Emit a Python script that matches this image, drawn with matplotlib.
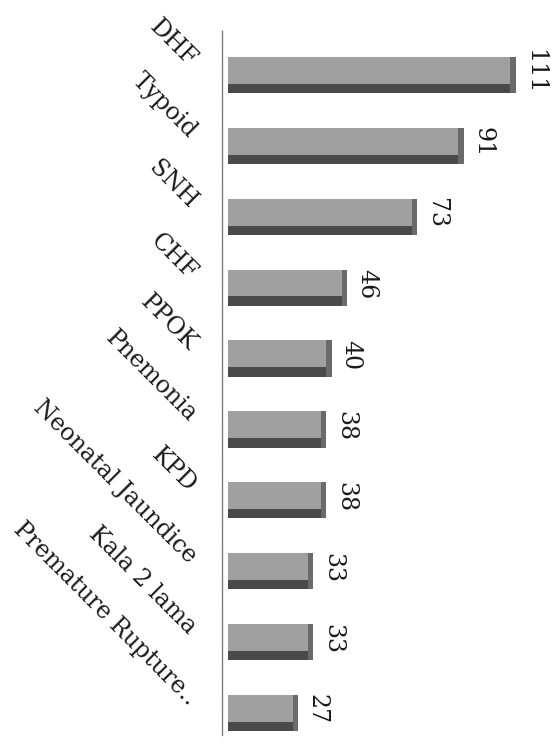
import matplotlib
matplotlib.use("Agg")
import matplotlib.pyplot as plt
import matplotlib.transforms as mtransforms

categories = ["DHF", "Typoid", "SNH", "CHF", "PPOK", "Pnemonia", "KPD",
              "Neonatal Jaundice", "Kala 2 lama", "Premature Rupture.."]
values = [111, 91, 73, 46, 40, 38, 38, 33, 33, 27]

fig = plt.figure(figsize=(5.59, 7.47), dpi=100)
ax = fig.add_axes([0.397, 0.016, 0.553, 0.944])

y = list(range(len(categories)))
h = 0.51
# main (top face) of each bar
ax.barh(y, values, height=h, left=0, color="#a0a0a0", edgecolor="none", zorder=2)
# darker lower face to mimic 3D look
ax.barh([v + h / 2 - 0.065 for v in y], values, height=0.13, left=0,
        color="#4a4a4a", edgecolor="none", zorder=3)
# darker right side
ax.barh(y, [2.0] * len(values), height=h, left=[v - 2.0 for v in values],
        color="#6a6a6a", edgecolor="none", zorder=3)

ax.set_xlim(-2.3, 117)
ax.set_ylim(len(categories) - 1 + 0.31, -0.635)

for s in ["top", "right", "bottom"]:
    ax.spines[s].set_visible(False)
ax.spines["left"].set_color("#777777")
ax.spines["left"].set_linewidth(0.9)
ax.spines["left"].set_linestyle((0, (1, 0.5)))
ax.set_xticks([])
ax.set_yticks([])

font = "DejaVu Serif"
trans = mtransforms.blended_transform_factory(ax.transAxes, ax.transData)
for i, lab in enumerate(categories):
    ax.text(-0.12, i - 0.05, lab, transform=trans, rotation=-45,
            rotation_mode="anchor", ha="right", va="bottom",
            fontsize=17, family=font, color="#1a1a1a")

for i, v in enumerate(values):
    ax.text(v + 3.0, i - 0.05, str(v), rotation=270, ha="left", va="center",
            fontsize=17, family=font, color="#1a1a1a")

fig.savefig("out.png", dpi=100)
